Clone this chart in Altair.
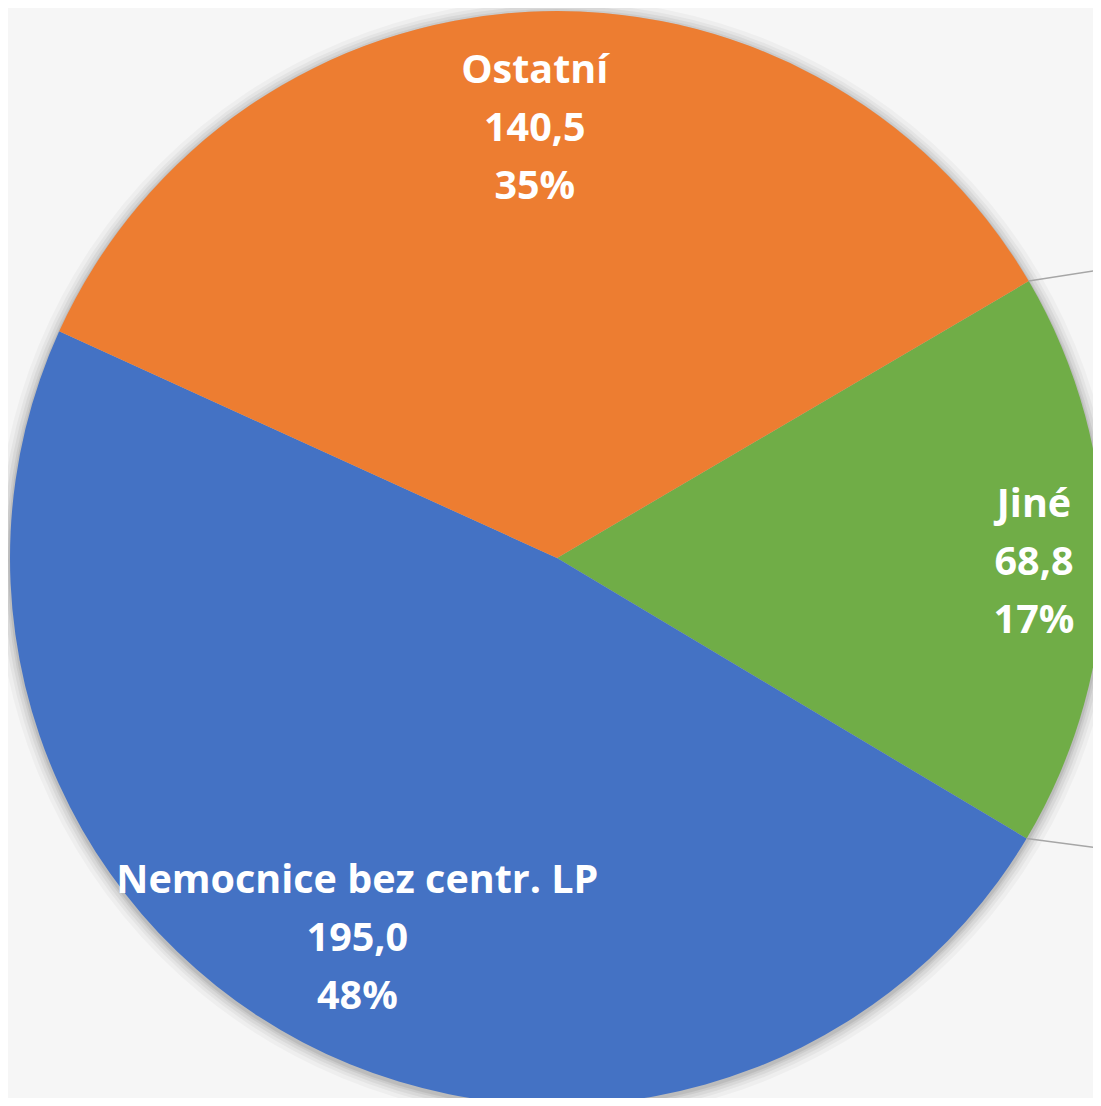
import math
import altair as alt
import pandas as pd

# ---- data ----
categories = ["Jiné", "Nemocnice bez centr. LP", "Ostatní"]
values = [68.8, 195.0, 140.5]
value_labels = ["68,8", "195,0", "140,5"]
pct_labels = ["17%", "48%", "35%"]
colors = ["#70AD47", "#4472C4", "#ED7D31"]

# ---- layout ----
W, H = 1085, 1090
CX, CY, R = 549, 550, 547
START = 1.040  # rotation of first slice (radians, clockwise from 12 o'clock)
FONT = "Open Sans"

df = pd.DataFrame({
    "cat": categories,
    "value": values,
    "order": list(range(len(categories))),
    "label": [f"{c}\n{v}\n{p}" for c, v, p in zip(categories, value_labels, pct_labels)],
})

theta = alt.Theta("value:Q", stack=True,
                  scale=alt.Scale(range=[START, START + 2 * math.pi]))
order = alt.Order("order:Q", sort="ascending")
color = alt.Color("cat:N", scale=alt.Scale(domain=categories, range=colors), legend=None)

base = alt.Chart(df)

# soft shadow around the pie
shadow_layers = []
for k, op in [(14, 0.03), (10, 0.04), (7, 0.05), (4, 0.06), (2, 0.07)]:
    shadow_layers.append(
        alt.Chart(pd.DataFrame({"d": [1]})).mark_arc(
            theta=0, theta2=2 * math.pi, radius=R + k, color="#000000", opacity=op
        ).encode(x=alt.value(CX), y=alt.value(CY + 2))
    )

pie = base.mark_arc(radius=R).encode(
    theta=theta, order=order, color=color,
    x=alt.value(CX), y=alt.value(CY),
)

is_green = alt.datum.cat == "Jiné"
text_kw = dict(font=FONT, fontSize=39.5, fontWeight="bold", color="white",
               lineBreak="\n", lineHeight=58, align="center", baseline="middle")

labels_main = base.mark_text(radius=430, dy=-58, **text_kw).encode(
    theta=theta, order=order, text="label:N",
    opacity=alt.condition(is_green, alt.value(0), alt.value(1)),
    x=alt.value(CX), y=alt.value(CY),
)
labels_green = base.mark_text(radius=477, dy=-55, **text_kw).encode(
    theta=theta, order=order, text="label:N",
    opacity=alt.condition(is_green, alt.value(1), alt.value(0)),
    x=alt.value(CX), y=alt.value(CY),
)

# leader lines leaving the green slice boundaries
total = sum(values)
a0 = START
a1 = START + values[0] / total * 2 * math.pi
lead = pd.DataFrame({
    "x": [CX + R * math.sin(a0), CX + R * math.sin(a1)],
    "y": [CY - R * math.cos(a0), CY - R * math.cos(a1)],
})
lead["x2"] = lead["x"] + 90
lead["y2"] = lead["y"] + pd.Series([-14, 12])
leaders = alt.Chart(lead).mark_rule(color="#a6a6a6", strokeWidth=1.5).encode(
    x=alt.X("x:Q", scale=None), y=alt.Y("y:Q", scale=None),
    x2="x2:Q", y2="y2:Q",
)

chart = alt.layer(*shadow_layers, pie, leaders, labels_main, labels_green).properties(
    width=W, height=H, padding=0, autosize="none", background="#f6f6f6",
).configure_view(stroke=None)

chart.save("out.html", embed_options={"renderer": "svg", "actions": False})
